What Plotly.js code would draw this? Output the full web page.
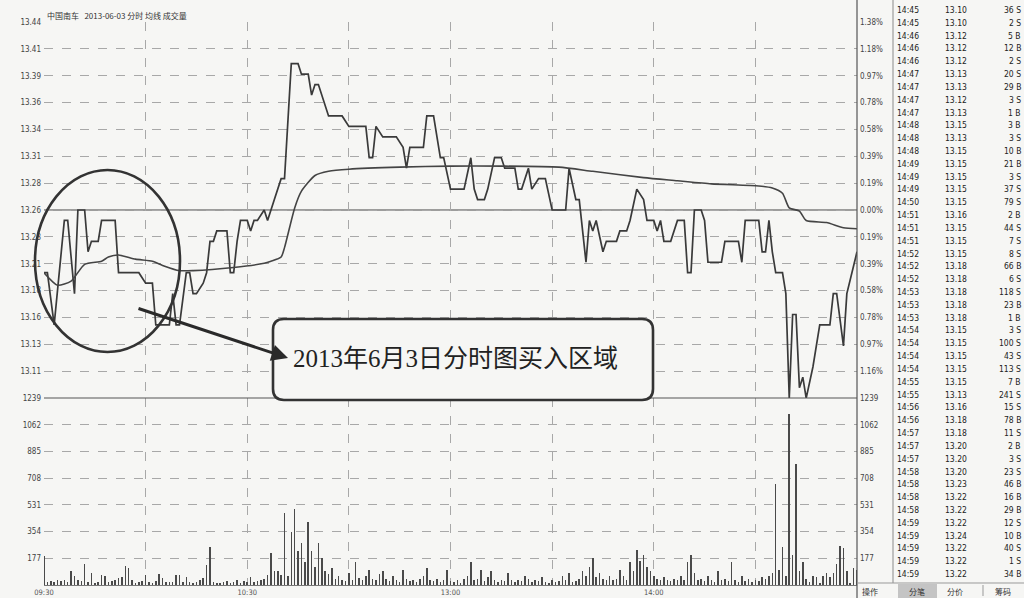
<!DOCTYPE html>
<html><head><meta charset="utf-8">
<script src="https://cdn.plot.ly/plotly-3.0.1.min.js"></script>
<style>html,body{margin:0;padding:0;background:#f6f6f4}</style>
</head><body><div id="chart" style="width:1024px;height:598px"></div>
<script>
// ---------- data ----------
const headerText = '中国南车   2013-06-03 分时 均线 成交量';
const preClose = 13.26;
const priceStep = 0.0257;
const priceTickLabels = ['13.44','13.41','13.39','13.36','13.34','13.31','13.28','13.26','13.23','13.21','13.18','13.16','13.13','13.11'];
const pctTickLabels = ['1.38%','1.18%','0.97%','0.78%','0.58%','0.39%','0.19%','0.00%','0.19%','0.39%','0.58%','0.78%','0.97%','1.16%'];
const volTickVals = [177,354,531,708,885,1062,1239];
const volTickLabels = ['177','354','531','708','885','1062','1239'];
const xTickTimes = ['09:30','10:00','10:30','11:00','11:30','13:30','14:00','14:30','15:00'];
const xTickLabels = ['09:30','','10:30','','13:00','','14:00','',''];

const priceTimes = ['09:30','09:31','09:33','09:36','09:37','09:39','09:40','09:42','09:43','09:44','09:46','09:47','09:51','09:52','09:58','10:00','10:02','10:03','10:07','10:08','10:09','10:10','10:12','10:13','10:14','10:15','10:17','10:18','10:19','10:20','10:21','10:24','10:25','10:26','10:27','10:28','10:30','10:31','10:32','10:33','10:35','10:36','10:38','10:40','10:41','10:42','10:43','10:45','10:46','10:48','10:49','10:50','10:51','10:54','10:58','11:00','11:05','11:06','11:07','11:08','11:10','11:14','11:16','11:17','11:18','11:22','11:23','11:25','11:27','11:28','11:30','13:04','13:06','13:07','13:08','13:10','13:11','13:13','13:15','13:16','13:19','13:20','13:21','13:23','13:24','13:26','13:28','13:30','13:34','13:35','13:37','13:38','13:40','13:41','13:42','13:43','13:45','13:46','13:49','13:50','13:52','13:53','13:55','13:57','13:58','14:00','14:01','14:02','14:03','14:05','14:07','14:09','14:10','14:11','14:12','14:14','14:15','14:16','14:20','14:21','14:25','14:26','14:27','14:31','14:32','14:33','14:34','14:35','14:36','14:38','14:39','14:40','14:41','14:42','14:43','14:44','14:45','14:47','14:48','14:49','14:52','14:53','14:54','14:56','14:57','15:00'];
const priceValues = [13.20,13.20,13.15,13.25,13.25,13.18,13.26,13.26,13.22,13.23,13.23,13.25,13.25,13.20,13.20,13.19,13.19,13.15,13.15,13.18,13.15,13.15,13.20,13.20,13.18,13.18,13.19,13.20,13.23,13.23,13.24,13.24,13.20,13.20,13.23,13.25,13.25,13.24,13.25,13.25,13.26,13.25,13.27,13.29,13.29,13.35,13.40,13.40,13.39,13.39,13.37,13.38,13.38,13.35,13.35,13.34,13.34,13.31,13.31,13.34,13.33,13.33,13.32,13.30,13.32,13.32,13.35,13.35,13.31,13.31,13.28,13.28,13.31,13.28,13.27,13.27,13.28,13.31,13.31,13.30,13.30,13.28,13.28,13.30,13.28,13.29,13.29,13.26,13.26,13.30,13.27,13.27,13.21,13.25,13.24,13.25,13.22,13.23,13.23,13.24,13.24,13.25,13.28,13.27,13.25,13.25,13.24,13.25,13.23,13.23,13.25,13.25,13.20,13.20,13.26,13.26,13.25,13.21,13.21,13.23,13.23,13.21,13.25,13.25,13.22,13.22,13.25,13.22,13.20,13.20,13.18,13.08,13.16,13.16,13.09,13.10,13.08,13.11,13.13,13.15,13.15,13.18,13.18,13.13,13.18,13.22];

const avgTimes = ['09:30','09:34','09:38','09:42','09:47','09:49','09:52','09:57','10:02','10:05','10:10','10:14','10:26','10:35','10:37','10:40','10:41','10:44','10:46','10:50','10:54','11:00','11:15','11:30','13:15','13:32','13:42','13:57','14:07','14:17','14:31','14:35','14:38','14:40','14:43','14:45','14:51','14:56','15:00'];
const avgValues = [13.200,13.188,13.192,13.208,13.211,13.215,13.217,13.213,13.211,13.207,13.202,13.202,13.205,13.209,13.211,13.215,13.224,13.262,13.278,13.293,13.297,13.299,13.301,13.302,13.302,13.301,13.297,13.291,13.288,13.285,13.283,13.281,13.276,13.262,13.259,13.250,13.248,13.243,13.242];

// one volume per minute, 09:30 ... 11:30 / 13:01 ... 15:00
const volumes = [
 190,22,28,18,30,24,35,20,92,59,
 30,25,138,20,79,15,22,66,59,18,
 25,30,45,52,125,112,30,15,20,25,
 66,20,15,25,72,46,18,22,20,66,
 66,20,52,18,12,20,30,46,132,249,
 20,15,10,18,25,12,20,30,15,25,
 20,52,18,25,30,40,66,210,92,92,
 66,479,60,354,505,223,280,150,420,223,
 120,275,177,90,70,110,40,60,30,25,
 80,35,150,45,30,60,100,40,30,70,
 90,40,25,60,30,20,100,40,25,30,
 20,40,60,110,30,25,40,20,30,100,
 25,20,30,15,40,60,150,30,40,100,
 25,50,90,30,20,35,25,80,30,20,
 30,25,60,40,20,30,25,50,20,15,
 30,20,25,60,30,80,20,25,40,90,
 60,120,177,50,80,40,30,60,30,40,
 100,60,30,150,90,230,160,200,120,90,
 60,40,30,50,30,25,40,35,60,30,
 150,200,80,30,40,25,60,30,20,90,
 30,40,25,150,30,20,60,25,40,20,
 30,25,50,40,60,80,670,100,250,60,
 1130,200,800,90,150,40,20,60,55,16,
 61,79,53,80,142,259,248,93,16,114,97];

// tick-by-tick table (right panel)
const tradeTimes = ['14:45','14:45','14:46','14:46','14:46','14:47','14:47','14:47','14:47','14:48','14:48','14:48','14:49','14:49','14:49','14:50','14:51','14:51','14:51','14:52','14:52','14:52','14:53','14:53','14:53','14:54','14:54','14:54','14:54','14:55','14:55','14:56','14:56','14:57','14:57','14:57','14:58','14:58','14:58','14:58','14:59','14:59','14:59','14:59','14:59'];
const tradePrices = ['13.10','13.10','13.12','13.12','13.12','13.13','13.13','13.12','13.13','13.15','13.13','13.15','13.15','13.15','13.15','13.15','13.16','13.15','13.15','13.15','13.18','13.18','13.18','13.18','13.18','13.15','13.15','13.15','13.15','13.15','13.13','13.16','13.18','13.18','13.20','13.20','13.20','13.23','13.22','13.22','13.22','13.24','13.22','13.22','13.22'];
const tradeVols = [36,2,5,12,2,20,29,3,1,3,3,10,21,3,37,79,2,44,7,8,66,6,118,23,1,3,100,43,113,7,241,15,78,11,2,3,23,46,16,29,12,10,40,1,34];
const tradeSides = ['S','S','B','B','S','S','B','S','B','B','S','B','B','S','S','S','B','S','S','S','B','S','S','B','B','S','S','S','S','B','S','S','B','S','B','S','S','B','B','B','S','B','S','S','B'];
const tabLabels = ['操作','分笔','分价','筹码'];
const noteText = '2013年6月3日分时图买入区域';

// ---------- helpers ----------
function toIdx(t){const [h,m]=t.split(':').map(Number);const mm=h*60+m;return mm<=690?mm-570:mm-780+120;}
const L=44,R=857,T=22,B=585;
const X = x => (x-L)/(R-L);
const Y = y => (B-y)/(B-T);

const priceTickVals = priceTickLabels.map((_,i)=>preClose+(7-i)*priceStep);
const pRange=[preClose-7*priceStep, preClose+7*priceStep];
const volX = volumes.map((_,i)=>i);

const bg='#f6f6f4', grid='#a8a8a8';
const tickFont={family:'DejaVu Sans Condensed, Liberation Sans Narrow, Liberation Sans, sans-serif',size:8,color:'#444'};

const traces=[
 {type:'scatter',mode:'lines',x:priceTimes.map(toIdx),y:priceValues,xaxis:'x',yaxis:'y',line:{color:'#3a3a3a',width:1.7},hoverinfo:'skip'},
 {type:'scatter',mode:'lines',x:avgTimes.map(toIdx),y:avgValues,xaxis:'x',yaxis:'y2',line:{color:'#444',width:1.6,shape:'spline',smoothing:0.6},hoverinfo:'skip'},
 {type:'bar',x:volX,y:volumes,xaxis:'x',yaxis:'y3',marker:{color:'#4a4a4a',line:{width:0}},width:0.45,hoverinfo:'skip'},
 {type:'bar',x:volX,y:volumes,xaxis:'x',yaxis:'y4',marker:{color:'rgba(0,0,0,0)',line:{width:0}},width:0.45,hoverinfo:'skip'}
];

const baseY={showgrid:true,gridcolor:grid,griddash:'dash',gridwidth:1,zeroline:false,showline:false,ticks:'',tickfont:tickFont,fixedrange:true};
const splitY=Y(398);
const layout={
 width:1024,height:598,margin:{l:L,r:1024-R,t:T,b:598-B},
 paper_bgcolor:bg,plot_bgcolor:bg,showlegend:false,bargap:0,
 font:{family:'Liberation Sans, sans-serif'},
 xaxis:{range:[0,240],tickvals:xTickTimes.map(toIdx),ticktext:xTickLabels,showgrid:true,gridcolor:grid,griddash:'dash',zeroline:false,showline:true,linecolor:'#777',ticks:'',tickfont:{family:tickFont.family,size:7.5,color:'#555'},ticklabelstandoff:0,anchor:'y3',fixedrange:true},
 yaxis:Object.assign({},baseY,{domain:[splitY,1],range:pRange,tickvals:priceTickVals,ticktext:priceTickLabels,ticklabelstandoff:2}),
 yaxis2:Object.assign({},baseY,{overlaying:'y',side:'right',range:pRange,tickvals:priceTickVals,ticktext:pctTickLabels,showgrid:false,anchor:'x',ticklabelstandoff:2}),
 yaxis3:Object.assign({},baseY,{domain:[0,splitY],range:[0,1239],tickvals:volTickVals,ticktext:volTickLabels,ticklabelstandoff:2}),
 yaxis4:Object.assign({},baseY,{overlaying:'y3',side:'right',range:[0,1239],tickvals:volTickVals,ticktext:volTickLabels,showgrid:false,anchor:'x',ticklabelstandoff:2}),
 shapes:[],annotations:[]
};
const S=layout.shapes, A=layout.annotations;
// zero line and panel borders
S.push({type:'line',xref:'x',yref:'y',x0:0,x1:240,y0:preClose,y1:preClose,line:{color:'#444',width:1.2},layer:'below'});
S.push({type:'line',xref:'paper',yref:'paper',x0:0,x1:1,y0:splitY,y1:splitY,line:{color:'#555',width:1.2}});
S.push({type:'line',xref:'paper',yref:'paper',x0:X(857),x1:X(857),y0:Y(0),y1:Y(598),line:{color:'#555',width:1.2}});
S.push({type:'line',xref:'paper',yref:'paper',x0:X(893),x1:X(893),y0:Y(0),y1:Y(583),line:{color:'#8a8a8a',width:1}});
S.push({type:'line',xref:'paper',yref:'paper',x0:X(857),x1:X(1024),y0:Y(583),y1:Y(583),line:{color:'#999',width:1}});
S.push({type:'rect',xref:'paper',yref:'paper',x0:X(898),x1:X(937),y0:Y(584),y1:Y(598),fillcolor:'#c4c4c4',line:{width:0}});
S.push({type:'line',xref:'paper',yref:'paper',x0:X(983),x1:X(983),y0:Y(585),y1:Y(596),line:{color:'#999',width:1}});
// ellipse around buy zone
S.push({type:'circle',xref:'paper',yref:'paper',x0:X(35),x1:X(180),y0:Y(170),y1:Y(352),line:{color:'#333',width:2.6}});
// rounded note box
function rr(x0,y0,x1,y1,r){
 const p=(x,y)=>X(x)+','+Y(y);
 return 'M'+p(x0+r,y0)+' L'+p(x1-r,y0)+' Q'+p(x1,y0)+' '+p(x1,y0+r)+' L'+p(x1,y1-r)+' Q'+p(x1,y1)+' '+p(x1-r,y1)+
  ' L'+p(x0+r,y1)+' Q'+p(x0,y1)+' '+p(x0,y1-r)+' L'+p(x0,y0+r)+' Q'+p(x0,y0)+' '+p(x0+r,y0)+' Z';
}
S.push({type:'path',xref:'paper',yref:'paper',path:rr(273,319,653,400,11),fillcolor:bg,line:{color:'#333',width:2.6}});
A.push({xref:'paper',yref:'paper',x:X(455),y:Y(358),text:noteText,showarrow:false,xanchor:'center',yanchor:'middle',font:{family:'Liberation Serif, Noto Sans CJK SC, serif',size:25,color:'#222'}});
// arrow
A.push({xref:'paper',yref:'paper',x:X(288),y:Y(358),ax:-151,ay:-50,text:'',showarrow:true,arrowhead:2,arrowsize:1.1,arrowwidth:3,arrowcolor:'#2a2a2a'});
// header
A.push({xref:'paper',yref:'paper',x:X(45),y:Y(15),text:headerText,showarrow:false,xanchor:'left',yanchor:'middle',font:{family:'Noto Sans CJK SC, sans-serif',size:8,color:'#333'}});
// table
const tf={family:'DejaVu Sans Condensed, Liberation Sans Narrow, Liberation Sans, sans-serif',size:8.5,color:'#222'};
tradeTimes.forEach((t,k)=>{
 const yy=Y(10+k*12.82);
 A.push({xref:'paper',yref:'paper',x:X(895),y:yy,text:t,showarrow:false,xanchor:'left',yanchor:'middle',font:tf});
 A.push({xref:'paper',yref:'paper',x:X(943),y:yy,text:tradePrices[k],showarrow:false,xanchor:'left',yanchor:'middle',font:tf});
 A.push({xref:'paper',yref:'paper',x:X(1023),y:yy,text:tradeVols[k]+' '+tradeSides[k],showarrow:false,xanchor:'right',yanchor:'middle',font:tf});
});
// tabs
[870,917,955,1003].forEach((x,i)=>{
 A.push({xref:'paper',yref:'paper',x:X(x),y:Y(591),text:tabLabels[i],showarrow:false,xanchor:'center',yanchor:'middle',font:{family:'Noto Sans CJK SC, sans-serif',size:8,color:'#333'}});
});
Plotly.newPlot('chart',traces,layout,{staticPlot:true,displayModeBar:false});
</script></body></html>
